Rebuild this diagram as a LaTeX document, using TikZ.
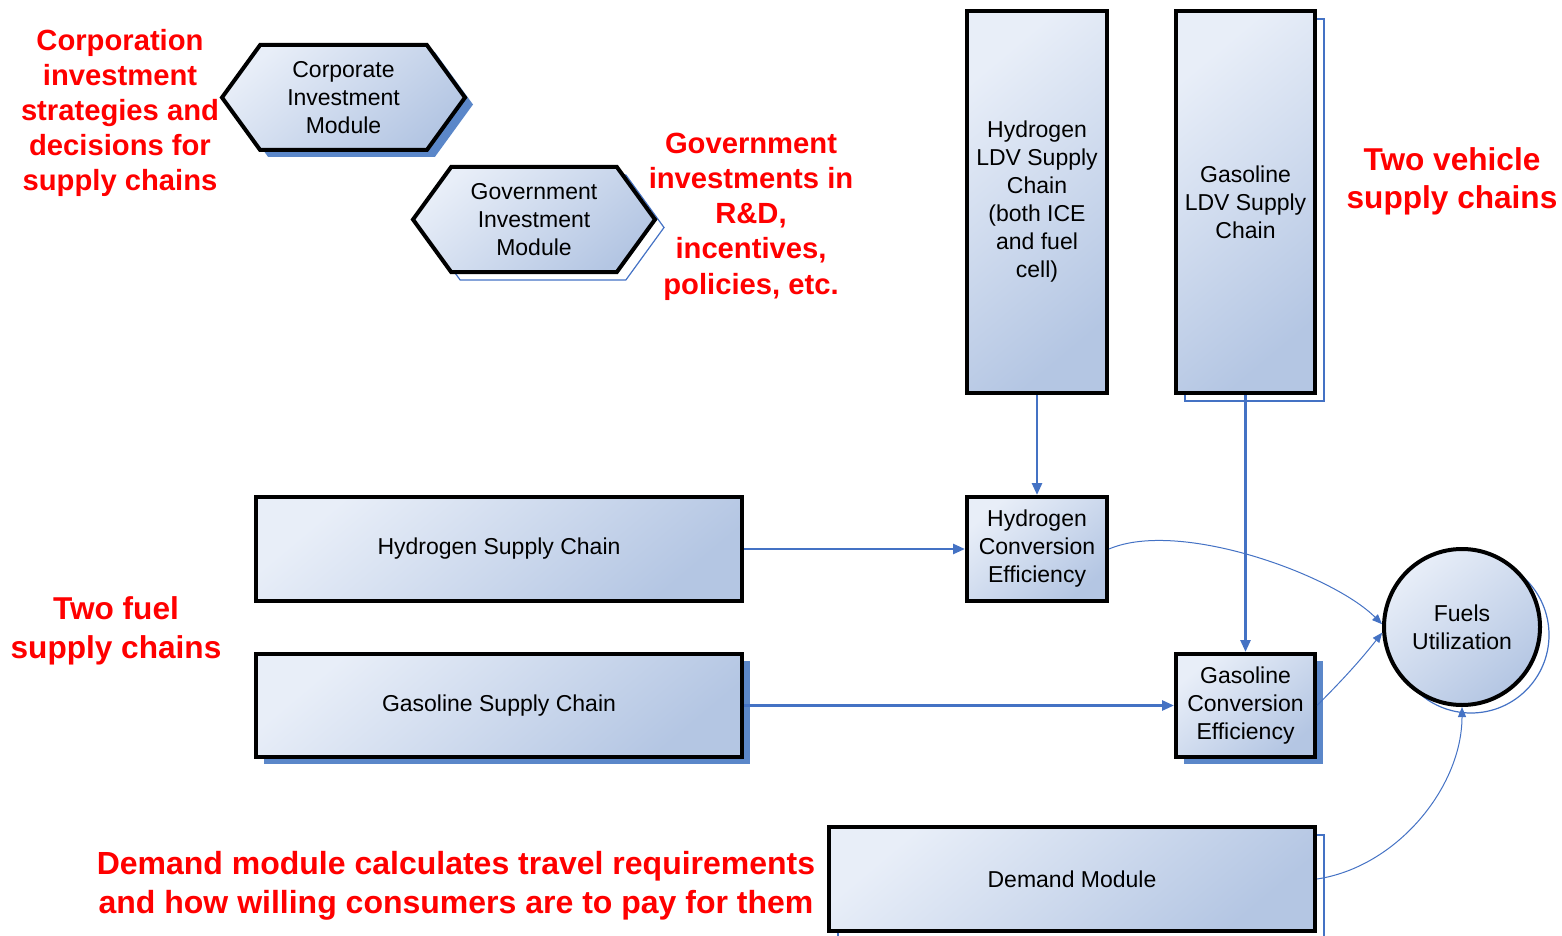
\documentclass[tikz,border=0pt]{standalone}
\usepackage{fontspec}
\setmainfont{Liberation Sans}
\usetikzlibrary{arrows.meta,shapes.symbols,shadows}

\definecolor{boxlight}{RGB}{232,238,248}
\definecolor{boxdark}{RGB}{180,198,227}
\definecolor{shadowblue}{RGB}{91,135,201}
\definecolor{linkblue}{RGB}{68,114,196}

\tikzset{every picture/.style={line width=0.75pt}}
\tikzset{
  module/.style={draw=black, line width=2pt, top color=boxlight, bottom color=boxdark, shading angle=40, align=center, inner sep=2pt, font=\fontsize{11.5}{14}\selectfont},
  boxmod/.style={module, rectangle},
  hexmod/.style={module, signal, signal to=west and east, signal pointer angle=108},
  solidshadow/.style={general shadow={shadow xshift=4pt, shadow yshift=-3.5pt, fill=shadowblue}},
  lineshadow/.style={general shadow={shadow xshift=4.5pt, shadow yshift=-4pt, draw=linkblue, line width=0.6pt}},
  note/.style={text=red, font=\bfseries\fontsize{14.6}{17.6}\selectfont, align=center, inner sep=0pt},
  bignote/.style={note, font=\bfseries\fontsize{15.8}{19.3}\selectfont},
  feed/.style={draw=linkblue, line width=1.3pt, -{Triangle[length=6pt,width=5pt]}},
  thinfeed/.style={draw=linkblue, line width=0.5pt, -{Triangle[length=5pt,width=4pt]}}
}

\begin{document}
\begin{tikzpicture}[x=0.5pt,y=0.5pt,yscale=-1,xscale=1]
    \useasboundingbox (0,0) rectangle (1562,936);

    %Shape: Hexagon
    \node [hexmod, solidshadow, minimum width=121.5pt, minimum height=52.5pt] (corp) at (343.5,97.5) {Corporate\\Investment\\Module};
    %Shape: Hexagon
    \node [hexmod, lineshadow, minimum width=121pt, minimum height=52.5pt] (gov) at (534,219.5) {Government\\Investment\\Module};

    %Shape: Rectangle
    \node [boxmod, minimum width=70pt, minimum height=191pt] (hldv) at (1037,202) {Hydrogen\\LDV Supply\\Chain\\(both ICE\\and fuel\\cell)};
    %Shape: Rectangle
    \node [boxmod, lineshadow, minimum width=69.5pt, minimum height=191pt] (gldv) at (1245.5,202) {Gasoline\\LDV Supply\\Chain};
    %Shape: Rectangle
    \node [boxmod, minimum width=243pt, minimum height=52pt] (hsc) at (499,549) {Hydrogen Supply Chain};
    %Shape: Rectangle
    \node [boxmod, solidshadow, minimum width=243pt, minimum height=51.5pt] (gsc) at (499,705.5) {Gasoline Supply Chain};
    %Shape: Rectangle
    \node [boxmod, minimum width=70pt, minimum height=52pt] (hce) at (1037,549) {Hydrogen\\Conversion\\Efficiency};
    %Shape: Rectangle
    \node [boxmod, solidshadow, minimum width=69.5pt, minimum height=51.5pt] (gce) at (1245.5,705.5) {Gasoline\\Conversion\\Efficiency};
    %Shape: Circle
    \node [module, circle, lineshadow, minimum size=78pt] (fuel) at (1462,627) {Fuels\\Utilization};
    %Shape: Rectangle
    \node [boxmod, lineshadow, minimum width=243pt, minimum height=52pt] (dem) at (1072,879) {Demand Module};

    %Straight Lines
    \draw [feed] (hldv) -- (hce);
    \draw [feed] (gldv) -- (gce);
    \draw [feed] (hsc) -- (hce);
    \draw [feed] (gsc) -- (gce);
    %Curve Lines
    \draw [thinfeed] (hce.east) .. controls +(70,-30) and +(-50,-50) .. (fuel.178);
    \draw [thinfeed] (gce.east) .. controls +(25,-25) and +(-22,28) .. (fuel.184);
    \draw [thinfeed] (dem.east) .. controls +(80,-12) and +(0,80) .. (fuel.south);

    % Text Node
    \draw (120,113) node [note] (corpnote) {Corporation\\investment\\strategies and\\decisions for\\supply chains};
    % Text Node
    \draw (751,216.5) node [note] (govnote) {Government\\investments in\\R\&D,\\incentives,\\policies, etc.};
    % Text Node
    \draw (1452,181.5) node [bignote] (vehnote) {Two vehicle\\supply chains};
    % Text Node
    \draw (116,631) node [bignote] (fuelnote) {Two fuel\\supply chains};
    % Text Node
    \draw (456,886) node [bignote, font=\bfseries\fontsize{16}{19.5}\selectfont] (demnote) {Demand module calculates travel requirements\\and how willing consumers are to pay for them};

\end{tikzpicture}
\end{document}
